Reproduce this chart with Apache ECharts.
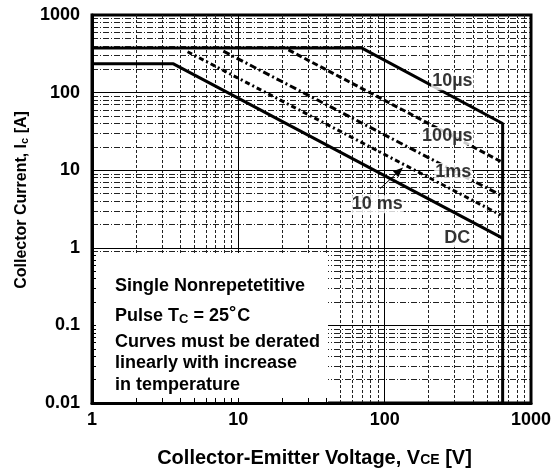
<!DOCTYPE html>
<html>
<head>
<meta charset="utf-8">
<script src="https://cdn.jsdelivr.net/npm/echarts@6/dist/echarts.min.js"></script>
<style>
html,body{margin:0;padding:0;background:#fff;}
#chart{width:557px;height:473px;}
</style>
</head>
<body>
<div id="chart"></div>
<script>
// ---- data ----
const dcCurve      = [[1, 235], [3.6, 235], [640, 1.33]];
const us10Curve    = [[1, 375], [70, 375], [640, 40], [640, 0.01]];
const us100Curve   = [[22, 355], [620, 13]];
const ms1Curve     = [[7.9, 342], [630, 4.7]];
const ms10Curve    = [[4.5, 336], [620, 2.65]];

const curveNames   = ['10µs', '100µs', '1ms', '10 ms', 'DC'];
const curveLabelX  = [290, 268, 294, 89, 313];
const curveLabelY  = [140, 27.6, 9.5, 3.65, 1.33];

const xTickLabels  = [1, 10, 100, 1000];
const yTickLabels  = [0.01, 0.1, 1, 10, 100, 1000];
const xMajorLines  = [10, 100];
const yMajorLines  = [0.1, 1, 10, 100];
const xMinorLines  = [2, 3, 4, 5, 6, 7, 8, 9, 20, 30, 40, 50, 60, 70, 80, 90, 200, 300, 400, 500, 600, 700, 800, 900];
const yMinorLines  = [0.02, 0.03, 0.04, 0.05, 0.06, 0.07, 0.08, 0.09,
                      0.2, 0.3, 0.4, 0.5, 0.6, 0.7, 0.8, 0.9,
                      2, 3, 4, 5, 6, 7, 8, 9,
                      20, 30, 40, 50, 60, 70, 80, 90,
                      200, 300, 400, 500, 600, 700, 800, 900];
const insideTicksX = [2, 3, 4, 5, 6, 7, 8, 9, 10, 20, 30, 40];
const insideTicksY = [0.02, 0.03, 0.04, 0.05, 0.06, 0.07, 0.08, 0.09, 0.1, 0.2, 0.3, 0.4, 0.5, 0.6, 0.7, 0.8];
const noteBox   = [1, 0.01, 41, 0.86];
const arrowFrom = [93, 5.8];
const arrowTo   = [126, 9.8];

// ---- chart ----
const FONT = '"Liberation Sans", Arial, sans-serif';
const chart = echarts.init(document.getElementById('chart'), null, {renderer: 'canvas'});

function fmt(v) { return String(parseFloat(Number(v).toPrecision(3))); }

const gridLineData = []
  .concat(xMinorLines.map(v => ({xAxis: v, lineStyle: {type: [3, 2], width: 1, color: '#222'}})))
  .concat(yMinorLines.map(v => ({yAxis: v, lineStyle: {type: [6, 2, 1, 2], width: 1, color: '#222'}})))
  .concat(xMajorLines.map(v => ({xAxis: v, lineStyle: {type: 'solid', width: 1, color: '#000'}})))
  .concat(yMajorLines.map(v => ({yAxis: v, lineStyle: {type: 'solid', width: 1, color: '#000'}})));

// short inside tick segments (length expressed as a ratio along the log axis)
const tickData = []
  .concat(insideTicksX.map(v => [{coord: [v, 0.01]}, {coord: [v, 0.0116]}]))
  .concat(insideTicksY.map(v => [{coord: [1, v]}, {coord: [1.065, v]}]));

function curve(name, data, type, z) {
  return {
    name: name, type: 'line', data: data, showSymbol: false, symbol: 'none',
    z: z || 3, animation: false, silent: true,
    lineStyle: {color: '#000', width: 3, type: type}
  };
}

const option = {
  animation: false,
  backgroundColor: '#fff',
  grid: {left: 92, top: 15, right: 26, bottom: 60, show: true, borderColor: '#000', borderWidth: 3, backgroundColor: '#fff'},
  xAxis: {
    type: 'log', logBase: 10, min: 1, max: 1000, z: 6,
    axisLine: {show: true, onZero: false, lineStyle: {color: '#000', width: 3}},
    axisTick: {show: false},
    splitLine: {show: false},
    axisLabel: {
      color: '#000', fontFamily: FONT, fontWeight: 'bold', fontSize: 18, margin: 8,
      formatter: function (v) { const s = fmt(v); return xTickLabels.map(String).indexOf(s) >= 0 ? s : ''; }
    },
    name: 'Collector-Emitter Voltage, V{sub|CE} [V]',
    nameLocation: 'middle', nameGap: 45,
    nameTextStyle: {
      color: '#000', fontFamily: FONT, fontWeight: 'bold', fontSize: 20, padding: [0, 0, 0, 6],
      rich: {sub: {fontFamily: FONT, fontWeight: 'bold', fontSize: 14, color: '#000', padding: [4, 0, 0, 0]}}
    }
  },
  yAxis: {
    type: 'log', logBase: 10, min: 0.01, max: 1000, z: 6,
    axisLine: {show: true, onZero: false, lineStyle: {color: '#000', width: 3}},
    axisTick: {show: false},
    splitLine: {show: false},
    axisLabel: {
      color: '#000', fontFamily: FONT, fontWeight: 'bold', fontSize: 18, margin: 12,
      formatter: function (v) { const s = fmt(v); return yTickLabels.map(String).indexOf(s) >= 0 ? s : ''; }
    }
  },
  series: [
    {
      name: 'grid', type: 'line', data: [[1, 0.01]], showSymbol: false, symbol: 'none', z: 1,
      lineStyle: {opacity: 0}, silent: true, animation: false,
      markLine: {z: 1, silent: true, symbol: ['none', 'none'], label: {show: false}, animation: false, data: gridLineData}
    },
    {
      name: 'box', type: 'custom', z: 2, silent: true, animation: false,
      data: [noteBox],
      renderItem: function (params, api) {
        const p0 = api.coord([api.value(0), api.value(1)]);
        const p1 = api.coord([api.value(2), api.value(3)]);
        return {
          type: 'rect',
          shape: {x: Math.min(p0[0], p1[0]), y: Math.min(p0[1], p1[1]),
                  width: Math.abs(p1[0] - p0[0]), height: Math.abs(p1[1] - p0[1])},
          style: {fill: '#fff'}
        };
      }
    },
    {
      name: 'ticks', type: 'line', data: [[1, 0.01]], showSymbol: false, symbol: 'none', z: 3,
      lineStyle: {opacity: 0}, silent: true, animation: false,
      markLine: {z: 3, silent: true, symbol: ['none', 'none'], label: {show: false}, animation: false,
        lineStyle: {type: 'solid', width: 1, color: '#000'}, data: tickData}
    },
    curve('DC', dcCurve, 'solid'),
    curve('10µs', us10Curve, 'solid'),
    curve('100µs', us100Curve, [6, 3]),
    curve('1ms', ms1Curve, [7, 3, 2, 3]),
    curve('10ms', ms10Curve, [5, 3, 2, 3]),
    {
      name: 'labels', type: 'scatter', z: 5, symbolSize: 0, silent: true, animation: false,
      data: curveNames.map((n, i) => ({value: [curveLabelX[i], curveLabelY[i]], name: n})),
      label: {
        show: true, position: 'inside', formatter: '{b}',
        color: '#000', fontFamily: FONT, fontWeight: 'bold', fontSize: 18,
        backgroundColor: '#fff', padding: [0, 1]
      },
      markLine: {
        z: 6, silent: true, animation: false, symbol: ['none', 'triangle'], symbolSize: [8, 10],
        label: {show: false}, lineStyle: {color: '#000', width: 1, type: 'solid'},
        data: [[{coord: arrowFrom}, {coord: arrowTo}]]
      }
    }
  ],
  graphic: [
    {type: 'text', x: 22, y: 200, rotation: Math.PI / 2, z: 10, style: {
      text: 'Collector Current, I{sub|c} [A]', font: 'bold 16px ' + FONT, fill: '#000',
      align: 'center', verticalAlign: 'middle',
      rich: {sub: {font: 'bold 11px ' + FONT, fill: '#000', padding: [5, 0, 0, 0]}}
    }},
    {type: 'text', left: 115, top: 277, z: 10, style: {text: 'Single Nonrepetetitive', font: 'bold 18px ' + FONT, fill: '#000'}},
    {type: 'text', left: 115, top: 304, z: 10, style: {
      text: 'Pulse T{sub|C} = 25{sup|°}C', font: 'bold 18px ' + FONT, fill: '#000',
      rich: {
        sub: {font: 'bold 13px ' + FONT, fill: '#000', padding: [7, 0, 0, 0]},
        sup: {font: 'bold 18px ' + FONT, fill: '#000', padding: [0, 1, 6, 0]}
      }
    }},
    {type: 'text', left: 115, top: 333, z: 10, style: {text: 'Curves must be derated', font: 'bold 18px ' + FONT, fill: '#000'}},
    {type: 'text', left: 115, top: 354, z: 10, style: {text: 'linearly with increase', font: 'bold 18px ' + FONT, fill: '#000'}},
    {type: 'text', left: 115, top: 376, z: 10, style: {text: 'in temperature', font: 'bold 18px ' + FONT, fill: '#000'}}
  ]
};
chart.setOption(option);
</script>
</body>
</html>
